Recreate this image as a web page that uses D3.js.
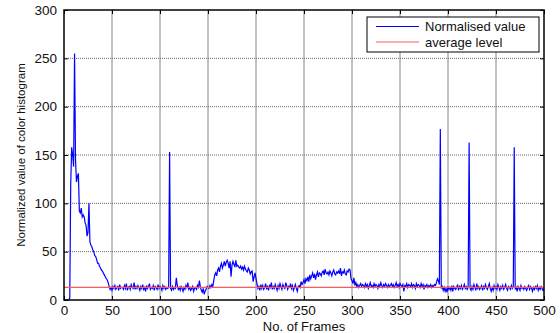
<!DOCTYPE html>
<html>
<head>
<meta charset="utf-8">
<script src="https://cdn.jsdelivr.net/npm/d3@7"></script>
<style>
  body { margin: 0; background: #fff; }
  text { font-family: Arial, "Liberation Sans", sans-serif; }
</style>
</head>
<body>
<svg id="chart" width="560" height="333"></svg>
<script>
// normalised histogram value per frame (frames 1..500)
const normValues = [
  0,0,0,0,0,2,120,158,150,138,255,145,122,128,131,92,90,95,86,88,
  86,80,77,66,70,100,60,57,55,52,50,46,45,42,38,38,35,33,31,30,
  28,26,24,22,21,18,14,11,13,10,14,12,15,11,13,14,10,16,12,13,
  13,11,15,12,17,10,13,14,11,16,13,12,18,11,14,12,15,13,10,14,
  12,16,11,13,9,15,12,14,17,11,13,12,15,10,14,13,11,16,12,14,
  13,10,15,12,14,11,13,12,13,153,12,10,14,11,13,12,23,15,11,13,
  10,14,12,9,13,11,15,12,18,11,13,10,12,14,9,12,13,11,15,12,
  20,14,10,8,12,6,9,11,14,13,12,15,13,16,14,20,26,28,25,31,
  33,29,35,38,33,36,40,35,39,41,38,33,40,24,36,40,37,34,41,35,
  36,34,33,35,32,34,31,35,32,30,29,33,31,27,29,30,19,24,28,22,
  17,12,14,10,16,12,15,11,13,17,12,14,10,15,13,18,11,14,12,16,
  13,10,15,12,17,14,11,16,13,12,18,15,11,14,13,17,12,15,10,13,
  16,12,9,14,15,13,19,16,18,21,17,22,20,24,19,26,22,25,28,23,
  27,21,26,29,24,28,27,25,29,30,26,32,28,27,29,26,30,28,25,29,
  31,27,26,29,28,30,27,33,25,29,28,31,27,26,30,29,32,31,22,20,
  17,23,15,18,14,16,13,15,17,14,16,15,13,17,14,16,12,15,18,14,
  15,13,17,14,16,15,12,16,14,18,15,13,16,14,17,15,13,16,14,15,
  17,14,16,13,15,18,14,16,13,17,15,14,16,9,15,14,17,13,16,15,
  14,17,13,16,15,12,17,14,16,15,13,17,14,16,11,15,14,16,13,15,
  14,16,13,15,14,16,15,18,22,20,16,177,12,14,10,13,9,12,8,14,
  11,13,10,15,9,14,12,11,13,16,10,14,12,15,11,13,16,12,14,11,
  13,163,12,10,14,11,16,13,10,17,12,14,11,13,15,10,14,12,16,13,
  11,14,17,12,9,13,10,15,12,14,11,16,13,10,14,12,15,11,13,16,
  12,10,14,13,11,15,12,14,158,11,13,9,14,12,10,15,12,13,11,14,
  12,10,13,15,11,14,12,9,13,11,14,12,15,10,13,11,14,12,10,12
]
const averageLevel = 13
const xTicks = [0, 50, 100, 150, 200, 250, 300, 350, 400, 450, 500]
const yTicks = [0, 50, 100, 150, 200, 250, 300]
const legendLabels = ['Normalised value', 'average level']
const legendColors = ['#0000ff', '#ff5a5a']

const svg = d3.select('#chart')
const plotLeft = 64, plotRight = 544, plotTop = 10, plotBottom = 300

const xScale = d3.scaleLinear().domain([0, 500]).range([plotLeft, plotRight])
const yScale = d3.scaleLinear().domain([0, 300]).range([plotBottom, plotTop])

// grid
const grid = svg.append('g')
grid.selectAll('.vgrid')
    .data(xTicks.slice(1, -1))
    .enter().append('line')
    .attr('x1', d => xScale(d)).attr('x2', d => xScale(d))
    .attr('y1', plotTop).attr('y2', plotBottom)
    .style('stroke', '#858585')
    .style('stroke-width', 1)
grid.selectAll('.hgrid')
    .data(yTicks.slice(1, -1))
    .enter().append('line')
    .attr('x1', plotLeft).attr('x2', plotRight)
    .attr('y1', d => yScale(d)).attr('y2', d => yScale(d))
    .style('stroke', '#666')
    .style('stroke-width', 1)
    .style('stroke-dasharray', '1,1')

// axes with inward ticks
svg.append('g')
   .attr('transform', `translate(0,${plotBottom})`)
   .call(d3.axisBottom(xScale).tickValues(xTicks).tickSizeInner(-4).tickSizeOuter(0).tickPadding(5))
svg.append('g')
   .attr('transform', `translate(0,${plotTop})`)
   .call(d3.axisTop(xScale).tickValues(xTicks).tickSizeInner(-4).tickSizeOuter(0).tickFormat(''))
svg.append('g')
   .attr('transform', `translate(${plotLeft},0)`)
   .call(d3.axisLeft(yScale).tickValues(yTicks).tickSizeInner(-4).tickSizeOuter(0).tickPadding(7))
svg.append('g')
   .attr('transform', `translate(${plotRight},0)`)
   .call(d3.axisRight(yScale).tickValues(yTicks).tickSizeInner(-4).tickSizeOuter(0).tickFormat(''))

svg.selectAll('.domain').remove()
svg.selectAll('.tick line').style('stroke', '#000')
svg.selectAll('.tick text')
   .style('font-size', '13.5px')
   .style('fill', '#111')
   .style('font-family', 'Arial, "Liberation Sans", sans-serif')

// data line
const lineGenerator = d3.line()
                        .x((d, i) => xScale(i + 1))
                        .y(d => yScale(d))

svg.append('path')
   .datum(normValues)
   .attr('d', lineGenerator)
   .style('fill', 'none')
   .style('stroke', '#0000ff')
   .style('stroke-width', 1.2)

// average level
svg.append('line')
   .attr('x1', plotLeft).attr('x2', plotRight)
   .attr('y1', yScale(averageLevel)).attr('y2', yScale(averageLevel))
   .style('stroke', legendColors[1])
   .style('stroke-width', 1.2)

// box
svg.append('rect')
   .attr('x', plotLeft).attr('y', plotTop)
   .attr('width', plotRight - plotLeft).attr('height', plotBottom - plotTop)
   .style('fill', 'none')
   .style('stroke', '#000')
   .style('stroke-width', 1.5)

// axis titles
svg.append('text')
   .text('No. of Frames')
   .attr('x', (plotLeft + plotRight) / 2)
   .attr('y', 331)
   .style('text-anchor', 'middle')
   .style('font-size', '13px')
   .style('fill', '#111')

svg.append('text')
   .text('Normalized value of color histogram')
   .attr('transform', `translate(25, ${(plotTop + plotBottom) / 2})rotate(-90)`)
   .style('text-anchor', 'middle')
   .style('font-size', '11.5px')
   .style('fill', '#111')

// legend
const legend = svg.append('g').attr('transform', 'translate(367,17)')
legend.append('rect')
      .attr('width', 172).attr('height', 35)
      .style('fill', '#fff')
      .style('stroke', '#000')
      .style('stroke-width', 1)
legendLabels.forEach((label, i) => {
  legend.append('line')
        .attr('x1', 9).attr('x2', 52)
        .attr('y1', 9.5 + i * 15.5).attr('y2', 9.5 + i * 15.5)
        .style('stroke', legendColors[i])
        .style('stroke-width', 1.2)
  legend.append('text')
        .text(label)
        .attr('x', 58)
        .attr('y', 14 + i * 15.5)
        .style('font-size', '13px')
        .style('fill', '#111')
})
</script>
</body>
</html>
